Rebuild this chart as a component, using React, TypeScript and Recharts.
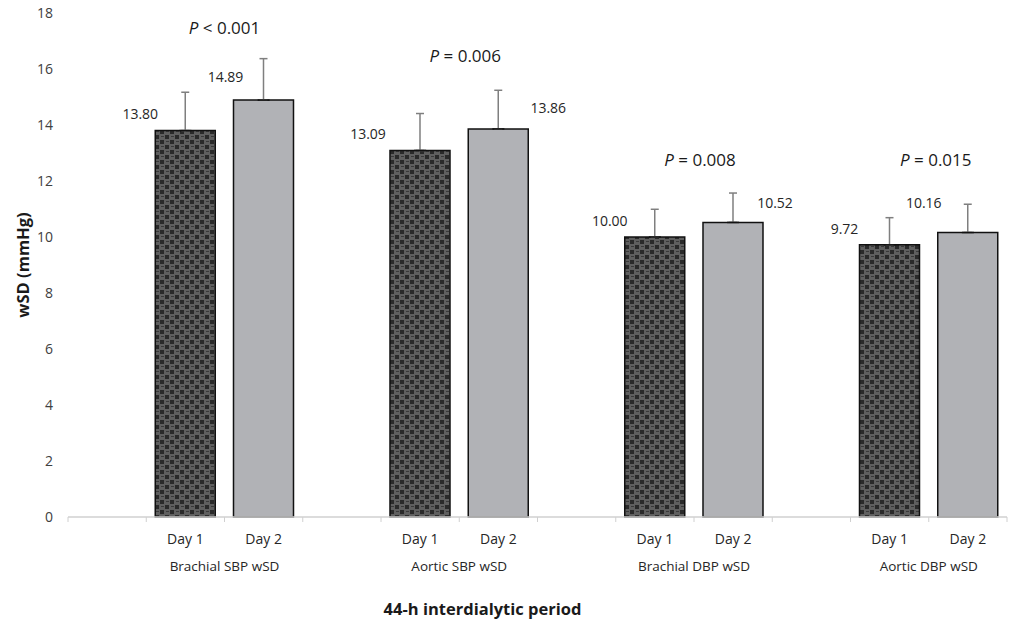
import React from "react";
import {
  ComposedChart,
  Bar,
  Line,
  XAxis,
  YAxis,
  Cell,
  ErrorBar,
  LabelList,
  Label,
} from "recharts";

// ---- data ----
const groups = ["Brachial SBP wSD", "Aortic SBP wSD", "Brachial DBP wSD", "Aortic DBP wSD"];
const dayLabels = ["Day 1", "Day 2"];
const day1Values = [13.8, 13.09, 10.0, 9.72];
const day2Values = [14.89, 13.86, 10.52, 10.16];
const day1Errors = [1.37, 1.32, 0.99, 0.97];
const day2Errors = [1.48, 1.38, 1.05, 1.01];
const pTexts = ["< 0.001", "= 0.006", "= 0.008", "= 0.015"];
const pLevels = [17.5, 16.5, 12.8, 12.8];
const yTicks = [0, 2, 4, 6, 8, 10, 12, 14, 16, 18];
const yAxisTitle = "wSD (mmHg)";
const xAxisTitle = "44-h interdialytic period";

// ---- layout (not data) ----
const CHART_W = 1024;
const CHART_H = 621;
const SLOT_W = 939 / 12;
const day1LabelOffset = [[-45, -17], [-52, -17], [-45, -17], [-45, -16]];
const day2LabelOffset = [[-38, -24], [50, -21], [42, -20], [-44, -30]];
const pLabelDx = [0, 6, 6, 7];
const FONT = "'Open Sans', 'Noto Sans', sans-serif";

type Row = {
  key: string;
  day: string;
  dayIdx: number;
  group: number;
  value: number | null;
  err: [number, number] | null;
  pText: string | null;
  p: number | null;
};

const rows: Row[] = [];
groups.forEach((g, gi) => {
  rows.push({ key: `b${gi}`, day: "", dayIdx: -1, group: gi, value: null, err: null, pText: null, p: null });
  rows.push({
    key: `d1-${gi}`,
    day: dayLabels[0],
    dayIdx: 0,
    group: gi,
    value: day1Values[gi],
    err: [0, day1Errors[gi]],
    pText: `${gi}|${pTexts[gi]}`,
    p: pLevels[gi],
  });
  rows.push({
    key: `d2-${gi}`,
    day: dayLabels[1],
    dayIdx: 1,
    group: gi,
    value: day2Values[gi],
    err: [0, day2Errors[gi]],
    pText: null,
    p: null,
  });
});
const rowByKey: Record<string, Row> = {};
rows.forEach((r) => (rowByKey[r.key] = r));

const XTick = (props: any) => {
  const { x, y, payload } = props;
  const row = rowByKey[payload?.value];
  if (!row) return null;
  const isLast = row.key === rows[rows.length - 1].key;
  return (
    <g>
      <line x1={x - SLOT_W / 2} y1={y} x2={x - SLOT_W / 2} y2={y + 5} stroke="#d0d0d0" strokeWidth={1} />
      {isLast && (
        <line x1={x + SLOT_W / 2} y1={y} x2={x + SLOT_W / 2} y2={y + 5} stroke="#d0d0d0" strokeWidth={1} />
      )}
      {row.day && (
        <text x={x} y={y + 21} textAnchor="middle" dominantBaseline="central" fontSize={14} fill="#262626" fontFamily={FONT}>
          {row.day}
        </text>
      )}
      {row.dayIdx === 0 && (
        <text x={x + SLOT_W / 2} y={y + 49} textAnchor="middle" dominantBaseline="central" fontSize={13.5} fill="#262626" fontFamily={FONT}>
          {groups[row.group]}
        </text>
      )}
    </g>
  );
};

const ValueLabel = (props: any) => {
  const { x, y, width, value } = props;
  const row = rowByKey[value];
  if (!row || row.value == null) return null;
  const off = row.dayIdx === 0 ? day1LabelOffset[row.group] : day2LabelOffset[row.group];
  return (
    <text
      x={x + width / 2 + off[0]}
      y={y + off[1]}
      textAnchor="middle"
      dominantBaseline="central"
      fontSize={14}
      fill="#262626"
      fontFamily={FONT}
    >
      {row.value.toFixed(2)}
    </text>
  );
};

const PLabel = (props: any) => {
  const { x, y, value } = props;
  if (value == null || y == null || isNaN(y)) return null;
  const [gStr, txt] = String(value).split("|");
  const g = Number(gStr);
  return (
    <text
      x={x + SLOT_W / 2 + (pLabelDx[g] ?? 6)}
      y={y}
      textAnchor="middle"
      dominantBaseline="central"
      fontSize={17}
      fill="#1a1a1a"
      fontFamily={FONT}
    >
      <tspan fontStyle="italic">P</tspan>
      <tspan>{" " + txt}</tspan>
    </text>
  );
};

const TopEdge = (props: any) => {
  const { cx, cy, index } = props;
  if (cx == null || cy == null || isNaN(cy)) return <g key={index} />;
  return <line key={index} x1={cx - 6} x2={cx + 6} y1={cy} y2={cy} stroke="#111111" strokeWidth={1.5} />;
};

export default function App() {
  return (
    <div style={{ position: "absolute", top: 0, left: 0, width: CHART_W, height: CHART_H }}>
      <ComposedChart
        width={CHART_W}
        height={CHART_H}
        data={rows}
        margin={{ top: 13, right: 17, left: 0, bottom: 0 }}
        barCategoryGap="11.5%"
      >
        <defs>
          <pattern id="checker" width="10" height="10" patternUnits="userSpaceOnUse">
            <rect width="10" height="10" fill="#5f5f5f" />
            <rect x="0" y="0" width="4" height="4" fill="#2a2a2a" />
            <rect x="5" y="5" width="4" height="4" fill="#2a2a2a" />
            <rect x="6" y="1" width="3" height="1" fill="#3a3a3a" />
            <rect x="1" y="6" width="3" height="1" fill="#3a3a3a" />
          </pattern>
        </defs>
        <XAxis
          dataKey="key"
          interval={0}
          height={104}
          axisLine={{ stroke: "#d0d0d0", strokeWidth: 1.5 }}
          tickLine={false}
          tickSize={0}
          tickMargin={0}
          tick={<XTick />}
        >
          <Label
            content={(p: any) => {
              const vb = p.viewBox || {};
              return (
                <text
                  x={vb.x + vb.width / 2 - 55}
                  y={vb.y + 91}
                  textAnchor="middle"
                  dominantBaseline="central"
                  fontSize={16.5}
                  fontWeight="bold"
                  fill="#1a1a1a"
                  fontFamily={FONT}
                >
                  {xAxisTitle}
                </text>
              );
            }}
          />
        </XAxis>
        <YAxis
          domain={[0, 18]}
          ticks={yTicks}
          width={68}
          axisLine={false}
          tickLine={false}
          tickSize={6}
          tickMargin={9}
          tick={{ fontSize: 14, fill: "#404040", fontFamily: FONT }}
        >
          <Label
            content={(p: any) => {
              const vb = p.viewBox || {};
              const cx = 22;
              const cy = vb.y + vb.height / 2;
              return (
                <text
                  x={cx}
                  y={cy}
                  transform={`rotate(-90 ${cx} ${cy})`}
                  textAnchor="middle"
                  dominantBaseline="central"
                  fontSize={16.5}
                  fontWeight="bold"
                  fill="#1a1a1a"
                  fontFamily={FONT}
                >
                  {yAxisTitle}
                </text>
              );
            }}
          />
        </YAxis>
        <Bar dataKey="value" isAnimationActive={false} stroke="#111111" strokeWidth={1.5}>
          {rows.map((r, i) => (
            <Cell key={i} fill={r.dayIdx === 0 ? "url(#checker)" : "#b1b2b6"} />
          ))}
          <ErrorBar dataKey="err" width={4} stroke="#7f7f7f" strokeWidth={1.5} direction="y" />
          <LabelList dataKey="key" content={<ValueLabel />} />
        </Bar>
        <Line
          dataKey="value"
          stroke="none"
          dot={<TopEdge />}
          activeDot={false}
          isAnimationActive={false}
          legendType="none"
        />
        <Line
          dataKey="p"
          stroke="none"
          dot={false}
          activeDot={false}
          isAnimationActive={false}
          legendType="none"
        >
          <LabelList dataKey="pText" content={<PLabel />} />
        </Line>
      </ComposedChart>
    </div>
  );
}
